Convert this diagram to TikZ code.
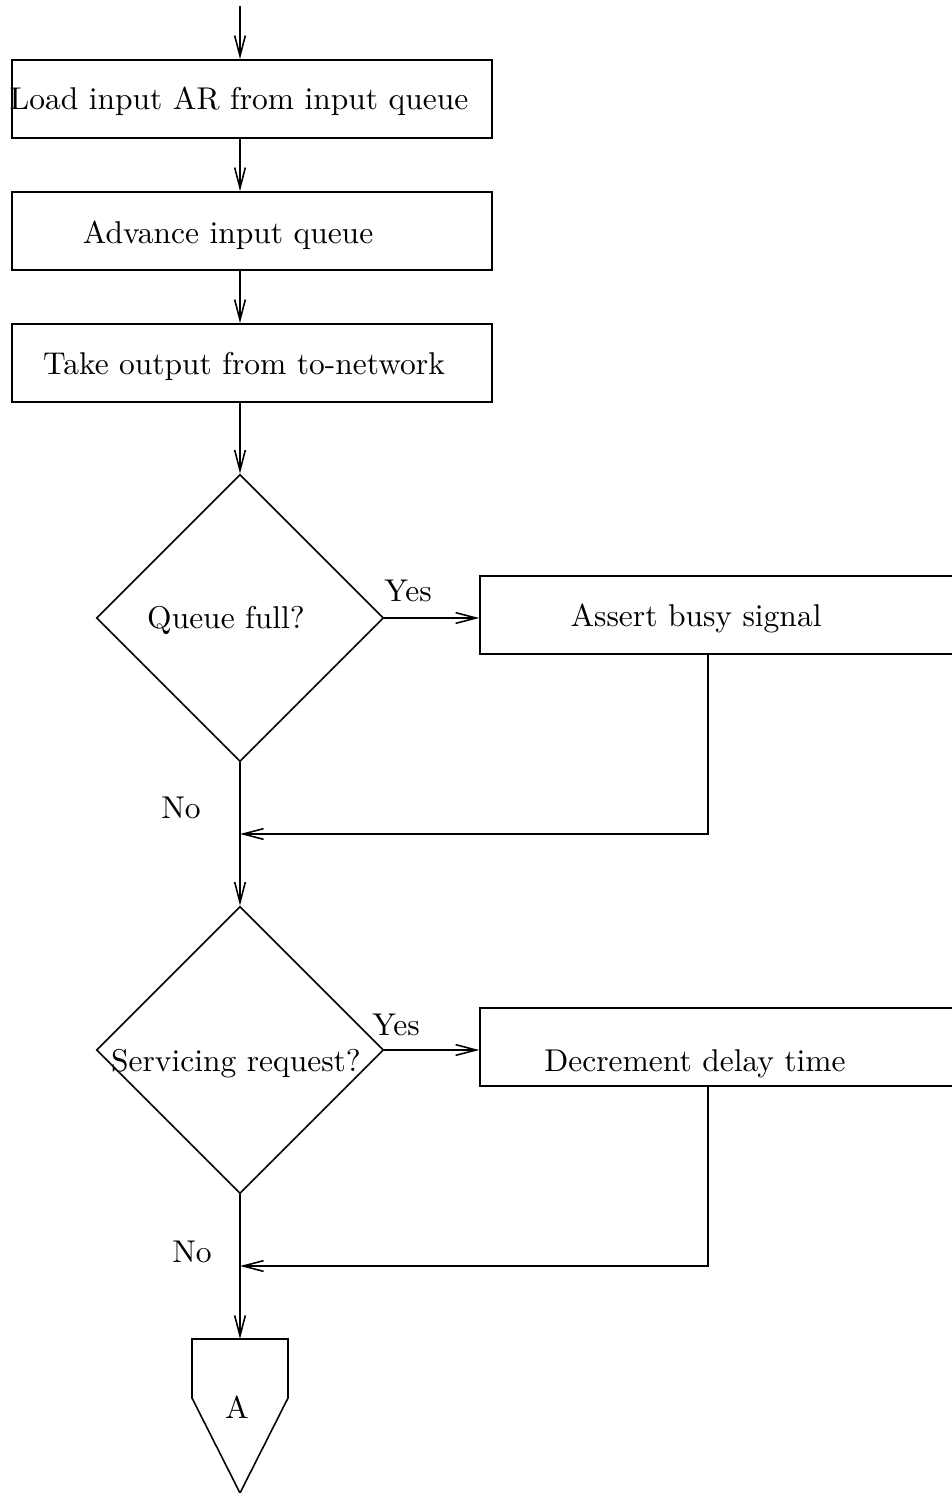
\documentclass[tikz,border=0pt]{standalone}
\usetikzlibrary{arrows.meta,shapes.geometric}
\begin{document}
\begin{tikzpicture}[x=0.3175pt,y=-0.3175pt,line width=0.5pt,
  arr/.style={-{Straight Barb[length=6.5pt,width=3.4pt]}},
  stepbox/.style={draw,rectangle,inner sep=0pt,minimum width=152.4pt,minimum height=24.8pt},
  decision/.style={draw,diamond,shape aspect=1,inner sep=0pt,minimum width=91.2pt,minimum height=91.2pt},
  lbl/.style={anchor=base,inner sep=0pt}]
\useasboundingbox (0,0) rectangle (951,1493);

% process boxes on the main line
\node[stepbox] (b1) at (252,99) {};
\node[stepbox] (b2) at (252,231) {};
\node[stepbox] (b3) at (252,363) {};
\node[lbl] (t1) at (239,110) {Load input AR from input queue};
\node[lbl] (t2) at (228,244) {Advance input queue};
\node[lbl] (t3) at (244,375) {Take output from to-network};

% decisions
\node[decision] (d1) at (240,618) {};
\node[lbl] (q1) at (226,628) {Queue full?};
\node[decision] (d2) at (240,1050) {};
\node[lbl] (q2) at (236,1071) {Servicing request?};

% side boxes
\node[stepbox] (b4) at (720,615) {};
\node[lbl] (t4) at (696,627) {Assert busy signal};
\node[stepbox] (b5) at (720,1047) {};
\node[lbl] (t5) at (695,1071) {Decrement delay time};

% off-page connector
\coordinate (atop) at (240,1339);
\draw (192,1339) coordinate (aL) -- (288,1339) -- (288,1398) -- (240,1493) -- (192,1398) -- cycle;
\node[lbl] (a) at (237,1418) {A};

% flow lines
\coordinate (in) at (240,6);
\draw[arr] (in) -- (in |- b1.north);
\draw[arr] (in |- b1.south) -- (in |- b2.north);
\draw[arr] (in |- b2.south) -- (in |- b3.north);
\draw[arr] (in |- b3.south) -- (d1.north);
\draw[arr] (d1.east) -- (d1.east -| b4.west);
\draw[arr] (d1.south) -- (d2.north);
\coordinate (r1) at (708,834);
\draw[arr] (b4.south -| r1) -- (r1) -- (r1 -| d1.south);
\draw[arr] (d2.east) -- (d2.east -| b5.west);
\draw[arr] (d2.south) -- (atop);
\coordinate (r2) at (708,1266);
\draw[arr] (b5.south -| r2) -- (r2) -- (r2 -| d2.south);

% branch labels
\node[lbl] (y1) at (408,602) {Yes};
\node[lbl] (n1) at (181,818) {No};
\node[lbl] (y2) at (396,1035) {Yes};
\node[lbl] (n2) at (192,1262) {No};
\end{tikzpicture}
\end{document}
